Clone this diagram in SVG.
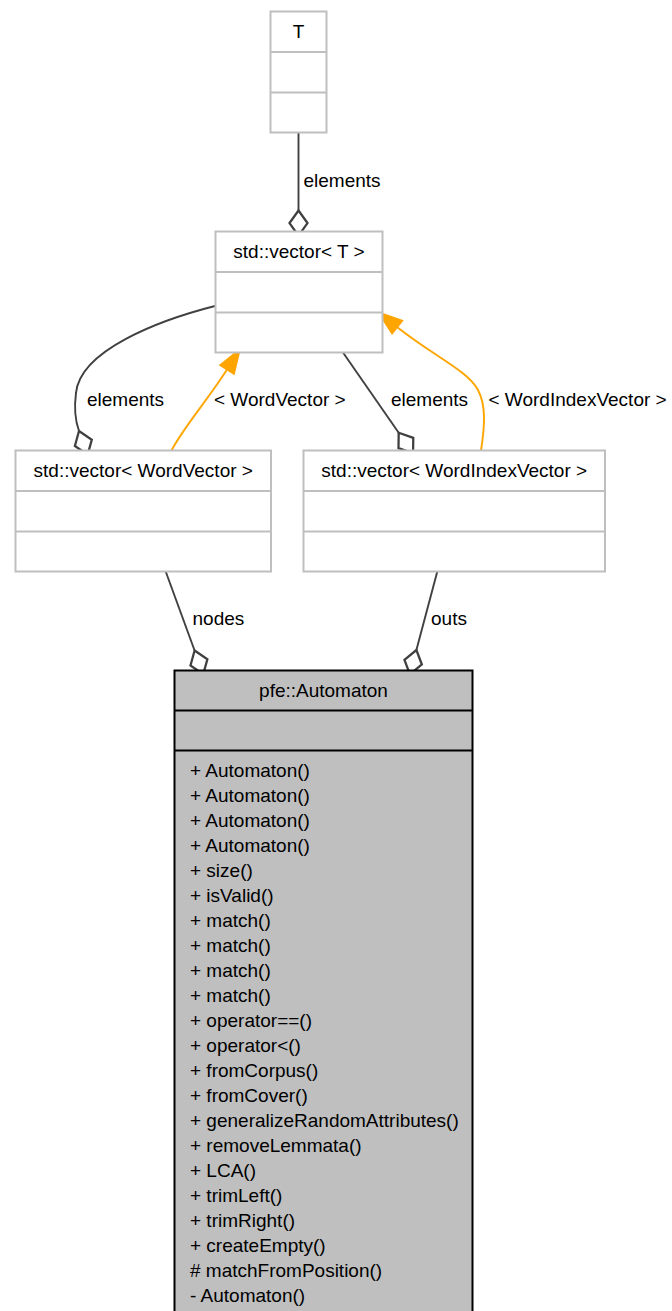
<svg xmlns="http://www.w3.org/2000/svg" width="672" height="1311" viewBox="0 0 672 1311">
<style>
text{font-family:"Liberation Sans",Arial,Helvetica,sans-serif;font-size:19px;fill:#000}
.t{text-anchor:middle}
.box{fill:#fff;stroke:#bfbfbf;stroke-width:2}
.div{stroke:#bfbfbf;stroke-width:2}
.cur{fill:#bfbfbf;stroke:#000;stroke-width:2}
.cdiv{stroke:#000;stroke-width:2}
.e{fill:none;stroke:#404040;stroke-width:1.9}
.inh{fill:none;stroke:#ffa500;stroke-width:1.9}
</style>
<defs>
<marker id="dia" markerUnits="userSpaceOnUse" orient="auto" refX="0" refY="0" markerWidth="30" markerHeight="30" viewBox="-2 -10 25 20" overflow="visible">
<path d="M0,0 L10.5,-7.5 L21,0 L10.5,7.5 Z" fill="#fff" stroke="#404040" stroke-width="1.9"/>
</marker>
<marker id="arr" markerUnits="userSpaceOnUse" orient="auto" refX="0" refY="0" markerWidth="30" markerHeight="30" viewBox="-2 -10 25 20" overflow="visible">
<path d="M0,-6.5 L19,0 L0,6.5 Z" fill="#ffa500" stroke="#ffa500" stroke-width="1.9"/>
</marker>
</defs>

<g id="connectors">
<path class="e" d="M298.5,133 L298.5,210.5" marker-end="url(#dia)"/>
<path class="e" d="M215,306 C160,320 80,350 76,393 C74,408 74.6,419 79,431" marker-end="url(#dia)"/>
<path class="inh" d="M171.5,450.5 C183,428 207,401 227.2,369.3" marker-end="url(#arr)"/>
<path class="e" d="M343,352.5 L398.7,432.7" marker-end="url(#dia)"/>
<path class="inh" d="M481,450.5 C485,425 486,405 478,390 C468,371 435,357 397,327" marker-end="url(#arr)"/>
<path class="e" d="M165.7,571.5 L194.6,650.5" marker-end="url(#dia)"/>
<path class="e" d="M437.3,571.5 L416.4,650" marker-end="url(#dia)"/>
<text x="303.5" y="187">elements</text>
<text x="87" y="406">elements</text>
<text x="214" y="406">&lt; WordVector &gt;</text>
<text x="391" y="406">elements</text>
<text x="488.5" y="406">&lt; WordIndexVector &gt;</text>
<text x="192.5" y="625">nodes</text>
<text x="431" y="625">outs</text>
</g>

<g id="node_T">
<rect class="box" x="270.5" y="11.5" width="56" height="121"/>
<line class="div" x1="270.5" y1="52" x2="326.5" y2="52"/>
<line class="div" x1="270.5" y1="92.5" x2="326.5" y2="92.5"/>
<text class="t" x="298.5" y="37.5">T</text>
</g>

<g id="node_vectorT">
<rect class="box" x="215.5" y="231.5" width="167" height="121"/>
<line class="div" x1="215.5" y1="272" x2="382.5" y2="272"/>
<line class="div" x1="215.5" y1="312.5" x2="382.5" y2="312.5"/>
<text class="t" x="299" y="257.5">std::vector&lt; T &gt;</text>
</g>

<g id="node_vectorWordVector">
<rect class="box" x="15.5" y="450.5" width="255.5" height="121"/>
<line class="div" x1="15.5" y1="491" x2="271" y2="491"/>
<line class="div" x1="15.5" y1="531.5" x2="271" y2="531.5"/>
<text class="t" x="143.25" y="476.5">std::vector&lt; WordVector &gt;</text>
</g>

<g id="node_vectorWordIndexVector">
<rect class="box" x="303.5" y="450.5" width="301.5" height="121"/>
<line class="div" x1="303.5" y1="491" x2="605" y2="491"/>
<line class="div" x1="303.5" y1="531.5" x2="605" y2="531.5"/>
<text class="t" x="454.25" y="476.5">std::vector&lt; WordIndexVector &gt;</text>
</g>

<g id="node_Automaton">
<rect class="cur" x="174.5" y="670.5" width="298" height="660"/>
<line class="cdiv" x1="174.5" y1="710.5" x2="472.5" y2="710.5"/>
<line class="cdiv" x1="174.5" y1="750.5" x2="472.5" y2="750.5"/>
<text class="t" x="323.5" y="696.5">pfe::Automaton</text>
<text x="190" y="776.5">+ Automaton()</text>
<text x="190" y="801.5">+ Automaton()</text>
<text x="190" y="826.5">+ Automaton()</text>
<text x="190" y="851.5">+ Automaton()</text>
<text x="190" y="876.5">+ size()</text>
<text x="190" y="901.5">+ isValid()</text>
<text x="190" y="926.5">+ match()</text>
<text x="190" y="951.5">+ match()</text>
<text x="190" y="976.5">+ match()</text>
<text x="190" y="1001.5">+ match()</text>
<text x="190" y="1026.5">+ operator==()</text>
<text x="190" y="1051.5">+ operator&lt;()</text>
<text x="190" y="1076.5">+ fromCorpus()</text>
<text x="190" y="1101.5">+ fromCover()</text>
<text x="190" y="1126.5">+ generalizeRandomAttributes()</text>
<text x="190" y="1151.5">+ removeLemmata()</text>
<text x="190" y="1176.5">+ LCA()</text>
<text x="190" y="1201.5">+ trimLeft()</text>
<text x="190" y="1226.5">+ trimRight()</text>
<text x="190" y="1251.5">+ createEmpty()</text>
<text x="190" y="1276.5"># matchFromPosition()</text>
<text x="190" y="1301.5">- Automaton()</text>
</g>
</svg>
